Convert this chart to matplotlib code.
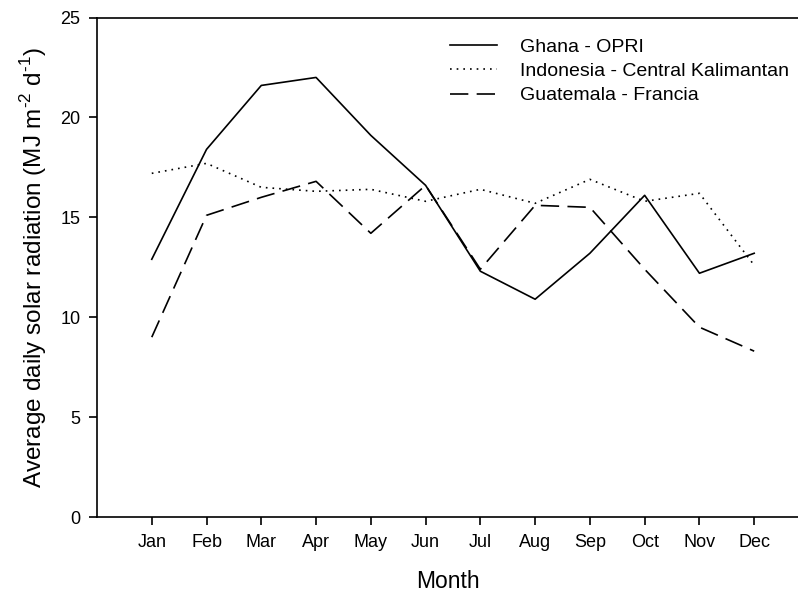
import matplotlib
matplotlib.use("Agg")
import matplotlib.pyplot as plt

months = ["Jan", "Feb", "Mar", "Apr", "May", "Jun", "Jul", "Aug", "Sep", "Oct", "Nov", "Dec"]
ghana = [12.9, 18.4, 21.6, 22.0, 19.1, 16.6, 12.3, 10.9, 13.2, 16.1, 12.2, 13.2]
indonesia = [17.2, 17.7, 16.5, 16.3, 16.4, 15.8, 16.4, 15.7, 16.9, 15.8, 16.2, 12.6]
guatemala = [9.0, 15.1, 16.0, 16.8, 14.2, 16.6, 12.4, 15.6, 15.5, 12.4, 9.5, 8.3]

plt.rcParams['font.family'] = ['Liberation Sans', 'DejaVu Sans']
plt.rcParams['mathtext.fontset'] = 'custom'
plt.rcParams['mathtext.rm'] = 'Liberation Sans'

fig = plt.figure(figsize=(7.98, 5.98), dpi=100)
ax = fig.add_axes([97/798, 81/598, 1 - 97/798, (517 - 17.5)/598])

x = list(range(1, 13))
ax.plot(x, ghana, color='black', lw=1.2, ls='-', label='Ghana - OPRI')
ax.plot(x, indonesia, color='black', lw=1.2, ls=(0, (1, 3)), label='Indonesia - Central Kalimantan')
ax.plot(x, guatemala, color='black', lw=1.2, ls=(0, (11, 5)), label='Guatemala - Francia')

ax.set_xlim(0, 12.8)
ax.set_ylim(0, 25)
ax.set_xticks(x)
ax.set_xticklabels(months)
ax.set_yticks([0, 5, 10, 15, 20, 25])
ax.spines['right'].set_visible(False)
for s in ['left', 'bottom', 'top']:
    ax.spines[s].set_linewidth(1.2)
ax.tick_params(direction='out', length=6, width=1.2, labelsize=13, pad=6)
ax.set_xlabel('Month', fontsize=16.5, labelpad=14)
ax.set_ylabel(r'Average daily solar radiation (MJ m$^{\mathrm{\text{-}2}}$ d$^{\mathrm{\text{-}1}}$)',
              fontsize=17.5, labelpad=8)

leg = ax.legend(loc='upper left', bbox_to_anchor=(0.504, 0.959), frameon=False, fontsize=14,
                handlelength=2.4, handletextpad=1.2, labelspacing=0.35, borderpad=0,
                borderaxespad=0)

fig.savefig('out.png', dpi=100)
